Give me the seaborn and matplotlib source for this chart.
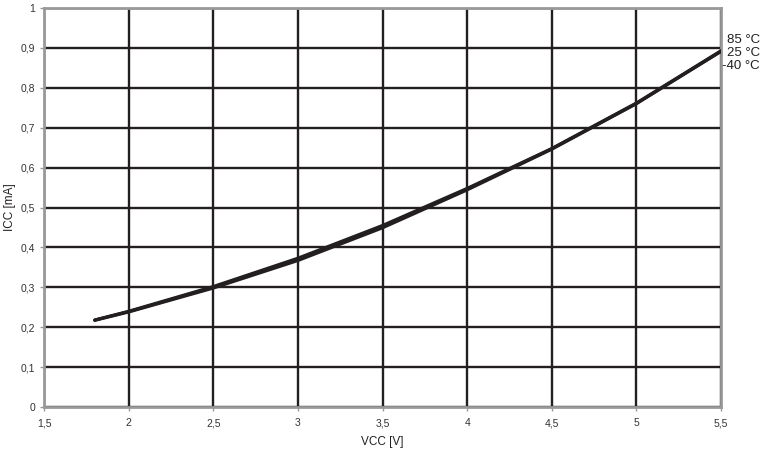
import numpy as np
import pandas as pd
import matplotlib
matplotlib.use('Agg')
import matplotlib.pyplot as plt
import seaborn as sns

# Date
vcc = [1.8, 2.0, 2.5, 3.0, 3.5, 4.0, 4.5, 5.0, 5.5]
icc_85 = [0.218, 0.240, 0.302, 0.373, 0.455, 0.548, 0.648, 0.762, 0.893]
icc_25 = [0.218, 0.239, 0.300, 0.370, 0.452, 0.546, 0.647, 0.761, 0.892]
icc_m40 = [0.217, 0.238, 0.298, 0.367, 0.449, 0.544, 0.646, 0.760, 0.891]
temps = ['85 °C', '25 °C', '-40 °C']

df = pd.DataFrame({
    'VCC': vcc * 3,
    'ICC': icc_85 + icc_25 + icc_m40,
    'temp': [t for t in temps for _ in vcc],
})

sns.set_style('white')
plt.rcParams['font.family'] = ['Liberation Sans', 'DejaVu Sans']

fig = plt.figure(figsize=(7.66, 4.55), dpi=100)
ax = fig.add_axes([0.0574, 0.1055, 0.8839, 0.8769])

sns.lineplot(data=df, x='VCC', y='ICC', units='temp', estimator=None,
             color='#231f20', linewidth=2.2, ax=ax, legend=False, zorder=3)

ax.set_xlim(1.5, 5.5)
ax.set_ylim(0, 1)
ax.set_xticks(np.arange(1.5, 5.51, 0.5))
ax.set_yticks(np.arange(0, 1.01, 0.1))
ax.set_xticklabels(['1,5', '2', '2,5', '3', '3,5', '4', '4,5', '5', '5,5'])
ax.set_yticklabels(['0', '0,1', '0,2', '0,3', '0,4', '0,5', '0,6', '0,7', '0,8', '0,9', '1'])
ax.grid(True, color='#231f20', linewidth=1.7)
ax.set_axisbelow(True)

for s in ax.spines.values():
    s.set_color('#999999')
    s.set_linewidth(2)
    s.set_visible(True)

ax.tick_params(axis='both', labelsize=7.5, colors='#999999', labelcolor='#333333',
               length=3, width=1, direction='out', bottom=True, left=True)
ax.tick_params(axis='x', pad=5)

ax.set_xlabel('VCC [V]', fontsize=8.5, color='#231f20', labelpad=6)
ax.set_ylabel('ICC [mA]', fontsize=8.5, color='#231f20', labelpad=3)

# Etichete temperaturi
for t, yv in zip(temps, [0.92, 0.887, 0.855]):
    ax.text(5.73, yv, t, ha='right', va='center', fontsize=9.5,
            color='#231f20', clip_on=False)

plt.savefig('out.png', dpi=100)
plt.close()
